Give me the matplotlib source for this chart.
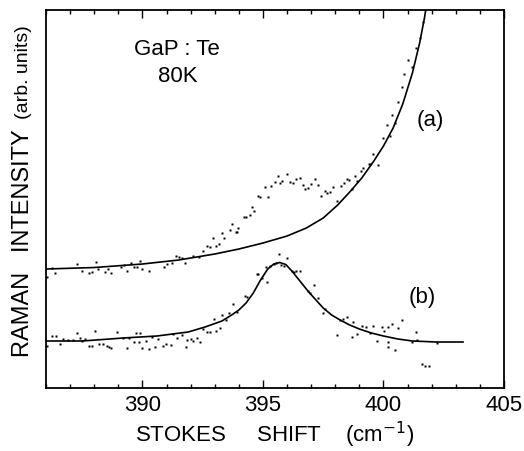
"""GaP:Te Raman spectra near the LO phonon at 80 K, curves (a) and (b)."""

import matplotlib
matplotlib.use("Agg")
import matplotlib.pyplot as plt
from matplotlib.ticker import MultipleLocator, NullLocator

plt.rcParams["font.family"] = ["Liberation Sans", "DejaVu Sans"]

# --- data (x in cm^-1, y in arbitrary units) ---------------------------------
fit_a_x = [386.0, 388.0, 390.0, 391.5, 393.0, 394.0, 395.0, 396.0, 396.8, 397.5,
           398.1, 398.6, 399.1, 399.6, 400.0, 400.4, 400.8, 401.2, 401.5, 401.7, 401.8]
fit_a_y = [119, 120.5, 124, 128, 134, 139, 145, 152, 160, 170,
           183, 196, 210, 227, 242, 260, 284, 315, 345, 370, 385]

dots_a_x = [386.04, 386.25, 386.37, 387.28, 387.48, 387.77, 387.90, 388.06, 388.14, 388.43,
            388.56, 388.68, 389.13, 389.22, 389.38, 389.51, 389.63, 389.79, 389.88, 390.00,
            390.29, 390.91, 391.03, 391.24, 391.40, 391.53, 391.65, 391.77, 392.10, 392.35,
            392.52, 392.68, 392.80, 392.93, 393.05, 393.18, 393.30, 393.38, 393.63, 393.71,
            393.92, 393.96, 393.88, 394.21, 394.29, 394.45, 394.54, 394.62, 394.78, 394.87,
            395.07, 395.20, 395.32, 395.48, 395.61, 395.69, 395.77, 395.98, 396.14, 396.23,
            396.39, 396.52, 396.68, 396.76, 396.85, 397.01, 397.18, 397.30, 397.42, 397.59,
            397.67, 397.79, 397.92, 398.08, 398.25, 398.37, 398.49, 398.58, 398.70, 398.82,
            398.91, 399.07, 399.15, 399.40, 399.44, 399.57, 399.77, 399.98, 400.14, 400.27,
            400.35, 400.47, 400.60, 400.76, 400.85, 401.01, 401.18, 401.34, 401.51, 401.63]
dots_a_y = [111, 120, 115, 124, 117, 115, 116, 126, 119, 116,
            119, 115, 121, 123, 117, 125, 121, 121, 127, 119,
            117, 121, 124, 125, 132, 131, 130, 125, 132, 131,
            137, 142, 141, 150, 142, 144, 155, 150, 158, 164,
            156, 160, 156, 171, 171, 173, 181, 177, 192, 191,
            201, 191, 202, 206, 212, 205, 207, 214, 206, 205,
            209, 210, 203, 199, 200, 204, 209, 203, 192, 197,
            195, 196, 201, 187, 202, 205, 209, 208, 199, 212,
            207, 217, 220, 224, 224, 234, 223, 250, 263, 252,
            273, 265, 286, 301, 314, 328, 321, 340, 350, 366]

fit_b_x = [386.0, 387.5, 389.2, 390.6, 391.9, 392.6, 393.3, 393.7, 394.0, 394.3,
           394.6, 394.9, 395.2, 395.45, 395.7, 395.95, 396.2, 396.5, 396.9, 397.2,
           397.5, 397.85, 398.2, 398.6, 399.0, 399.5, 400.0, 400.6, 401.2, 402.2, 403.3]
fit_b_y = [47, 47, 50, 52, 56, 61, 67, 73, 78, 85,
           95, 108, 119, 124, 125.5, 123.5, 117, 108, 96, 88,
           80, 73, 68, 63, 59, 55, 52, 49, 47, 46, 46]

dots_b_x = [386.04, 386.25, 386.41, 386.58, 386.70, 386.91, 387.11, 387.28, 387.40, 387.48,
            387.61, 387.77, 387.90, 388.02, 388.19, 388.35, 388.52, 388.60, 388.68, 388.93,
            389.18, 389.38, 389.46, 389.63, 389.75, 389.84, 389.88, 390.00, 390.16, 390.29,
            390.41, 390.54, 390.66, 390.87, 390.99, 391.20, 391.28, 391.44, 391.65, 391.81,
            391.86, 392.02, 392.10, 392.27, 392.39, 392.52, 392.68, 392.80, 392.97, 393.05,
            393.22, 393.30, 393.46, 393.59, 393.75, 393.92, 394.25, 394.33, 394.74, 394.78,
            394.95, 395.11, 395.15, 395.28, 395.44, 395.53, 395.65, 395.73, 395.86, 395.98,
            396.19, 396.27, 396.39, 396.52, 396.85, 396.97, 397.13, 397.30, 397.51, 397.59,
            398.08, 398.21, 398.33, 398.49, 398.70, 398.74, 398.91, 399.11, 399.28, 399.44,
            399.57, 399.73, 399.94, 400.02, 400.19, 400.19, 400.19, 400.35, 400.47, 400.60,
            400.76, 401.18, 401.34, 401.38, 401.59, 401.71, 401.88, 402.21]
dots_b_y = [42, 52, 52, 44, 49, 48, 48, 55, 50, 47,
            49, 42, 42, 57, 44, 44, 42, 41, 40, 56,
            50, 40, 50, 46, 55, 46, 55, 40, 47, 39,
            51, 41, 49, 42, 44, 43, 54, 50, 53, 41,
            48, 49, 47, 50, 46, 59, 56, 56, 69, 57,
            60, 73, 68, 75, 84, 76, 92, 91, 114, 114,
            110, 121, 106, 122, 124, 125, 134, 123, 122, 130,
            117, 116, 117, 117, 97, 95, 103, 90, 75, 79,
            53, 68, 69, 71, 51, 66, 54, 62, 61, 55,
            62, 47, 61, 57, 46, 41, 61, 64, 38, 60,
            68, 46, 56, 48, 24, 22, 22, 45]

x_major = [390, 395, 400, 405]
x_labels = ["390", "395", "400", "405"]

# --- figure ------------------------------------------------------------------
fig = plt.figure(figsize=(5.24, 4.51), dpi=100)
ax = fig.add_axes([0.0878, 0.1397, 0.874, 0.838])

ax.plot(fit_a_x, fit_a_y, color="black", lw=1.2, solid_joinstyle="round")
ax.plot(fit_b_x, fit_b_y, color="black", lw=1.2, solid_joinstyle="round")
ax.plot(dots_a_x, dots_a_y, ls="none", marker="s", ms=1.7, color="black", mec="none")
ax.plot(dots_b_x, dots_b_y, ls="none", marker="s", ms=1.7, color="black", mec="none")

ax.set_xlim(386, 405)
ax.set_ylim(0, 378)
ax.set_xticks(x_major)
ax.set_xticklabels(x_labels, fontsize=16)
ax.xaxis.set_minor_locator(MultipleLocator(1))
ax.yaxis.set_major_locator(NullLocator())
ax.tick_params(axis="x", which="both", direction="in", top=True, width=1.0, pad=5)
ax.tick_params(axis="x", which="major", length=6)
ax.tick_params(axis="x", which="minor", length=3)
for sp in ax.spines.values():
    sp.set_linewidth(1.3)

ax.text(0.285, 0.895, "GaP : Te", transform=ax.transAxes, fontsize=16, ha="center", va="center")
ax.text(0.287, 0.825, "80K", transform=ax.transAxes, fontsize=16, ha="center", va="center")
ax.text(0.840, 0.709, "(a)", transform=ax.transAxes, fontsize=16, ha="center", va="center")
ax.text(0.821, 0.240, "(b)", transform=ax.transAxes, fontsize=16, ha="center", va="center")

ax.text(-0.050, 0.384, "RAMAN   INTENSITY", transform=ax.transAxes, rotation=90,
        fontsize=17, ha="center", va="center")
ax.text(-0.050, 0.836, "(arb. units)", transform=ax.transAxes, rotation=90,
        fontsize=14, ha="center", va="center")
ax.set_xlabel(r"STOKES     SHIFT    (cm$^{-1}$)", fontsize=16, labelpad=3)

fig.savefig("out.png", dpi=100)
